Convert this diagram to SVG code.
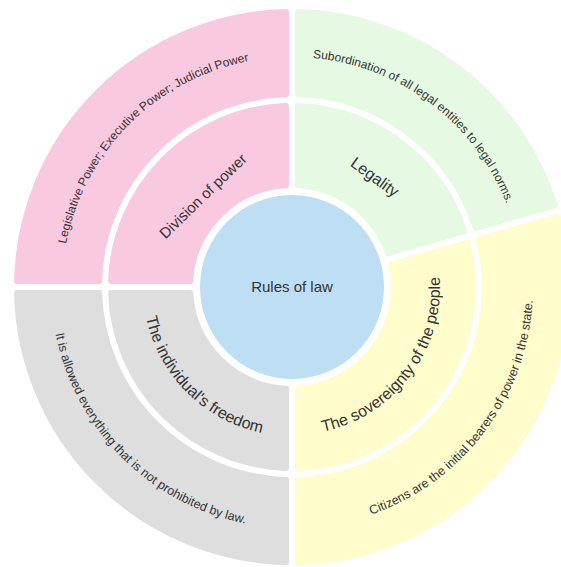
<svg xmlns="http://www.w3.org/2000/svg" xmlns:xlink="http://www.w3.org/1999/xlink" width="561" height="567" viewBox="0 0 561 567">
<style>
  .seg { stroke-width: 6; stroke-linejoin: round; }
  .pink { fill: #F9C9E0; stroke: #F9C9E0; }
  .green { fill: #E6FAE3; stroke: #E6FAE3; }
  .yellow { fill: #FFFDCC; stroke: #FFFDCC; }
  .gray { fill: #DEDEDE; stroke: #DEDEDE; }
  .t { font-family: "Liberation Sans", Arial, sans-serif; fill: #333333; }
  .outer { font-size: 12px; }
  .outer2 { font-size: 12.5px; }
  .inner { font-size: 16px; }
</style>
<defs>
  <path id="pOutPink" d="M 62 287 A 230 230 0 0 1 292 57"/>
  <path id="pOutGreen" d="M 292 57 A 230 230 0 0 1 513.09 223.60"/>
  <path id="pOutYellow" d="M 292 528 A 241 241 0 0 0 523.66 220.57"/>
  <path id="pOutGray" d="M 51 287 A 241 241 0 0 0 292 528"/>
  <path id="pInYellow" d="M 292 435 A 148 148 0 0 0 434.27 246.21"/>
  <path id="pInGray" d="M 143 287 A 149 149 0 0 0 292 436"/>
</defs>
<rect x="0" y="0" width="561" height="567" fill="#FFFFFF"/>

<g id="division-of-power-outer">
  <path class="seg pink" d="M 286 12.07 A 275 275 0 0 0 17.07 281 L 99.09 281 A 193 193 0 0 1 286 94.09 Z"/>
  <text class="t outer" text-anchor="middle"><textPath xlink:href="#pOutPink" href="#pOutPink" startOffset="50%">Legislative Power; Executive Power; Judicial Power</textPath></text>
</g>
<g id="division-of-power">
  <path class="seg pink" d="M 286 106.1 A 181 181 0 0 0 111.1 281 L 190.18 281 A 102 102 0 0 1 286 185.18 Z"/>
  <text class="t" font-size="15" text-anchor="middle" dy="0.35em" transform="translate(203 196) rotate(-44)">Division of power</text>
</g>

<g id="legality-outer">
  <path class="seg green" d="M 298 12.07 A 275 275 0 0 1 554.63 205.45 L 475.78 228.06 A 193 193 0 0 0 298 94.09 Z"/>
  <text class="t outer" text-anchor="middle"><textPath xlink:href="#pOutGreen" href="#pOutGreen" startOffset="50%">Subordination of all legal entities to legal norms.</textPath></text>
</g>
<g id="legality">
  <path class="seg green" d="M 298 106.1 A 181 181 0 0 1 464.24 231.37 L 388.22 253.17 A 102 102 0 0 0 298 185.18 Z"/>
  <text class="t inner" text-anchor="middle" dy="0.35em" transform="translate(375 177) rotate(36)">Legality</text>
</g>

<g id="sovereignty-outer">
  <path class="seg yellow" d="M 557.94 216.98 A 275 275 0 0 1 298 561.93 L 298 479.91 A 193 193 0 0 0 479.09 239.6 Z"/>
  <text class="t outer2" text-anchor="middle"><textPath xlink:href="#pOutYellow" href="#pOutYellow" startOffset="50%">Citizens are the initial bearers of power in the state.</textPath></text>
</g>
<g id="sovereignty">
  <path class="seg yellow" d="M 467.55 242.9 A 181 181 0 0 1 298 467.9 L 298 388.82 A 102 102 0 0 0 391.53 264.7 Z"/>
  <text class="t inner" text-anchor="middle"><textPath xlink:href="#pInYellow" href="#pInYellow" startOffset="50%">The sovereignty of the people</textPath></text>
</g>

<g id="freedom-outer">
  <path class="seg gray" d="M 17.07 293 A 275 275 0 0 0 286 561.93 L 286 479.91 A 193 193 0 0 1 99.09 293 Z"/>
  <text class="t outer2" text-anchor="middle"><textPath xlink:href="#pOutGray" href="#pOutGray" startOffset="50%">It is allowed everything that is not prohibited by law.</textPath></text>
</g>
<g id="freedom">
  <path class="seg gray" d="M 111.1 293 A 181 181 0 0 0 286 467.9 L 286 388.82 A 102 102 0 0 1 190.18 293 Z"/>
  <text class="t inner" text-anchor="middle"><textPath xlink:href="#pInGray" href="#pInGray" startOffset="50%">The individual's freedom</textPath></text>
</g>

<g id="rules-of-law">
  <circle cx="292" cy="287" r="92" fill="#BEDFF3"/>
  <text class="t" x="292" y="292" font-size="15" text-anchor="middle">Rules of law</text>
</g>
</svg>
